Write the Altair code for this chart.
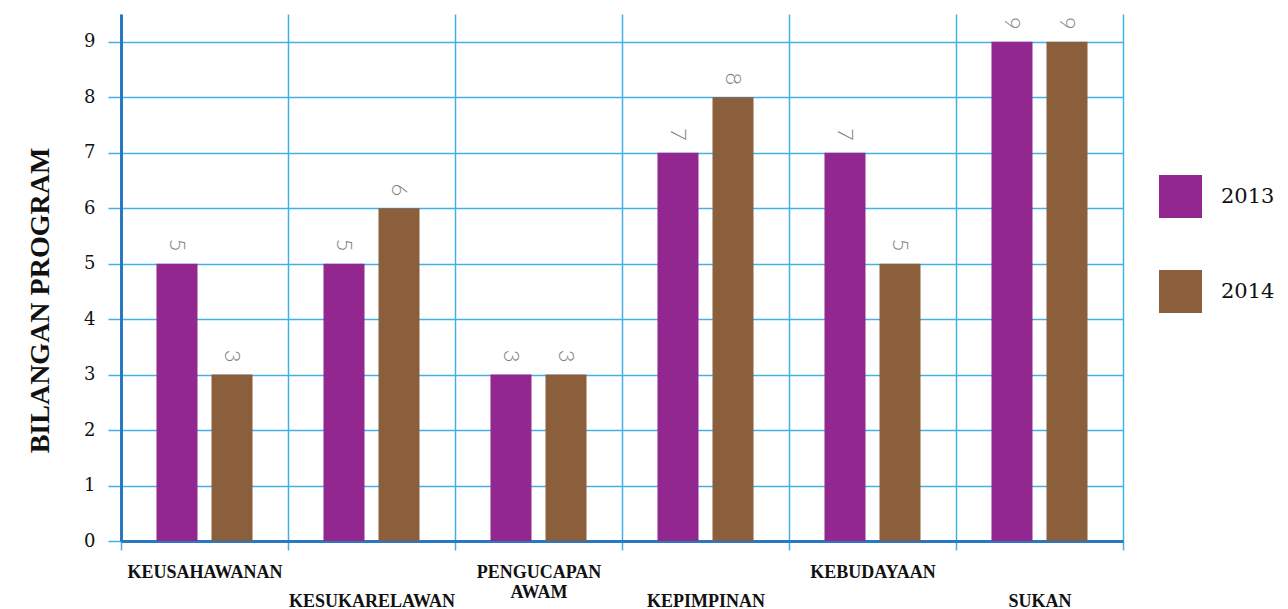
import altair as alt
import pandas as pd

categories = ["KEUSAHAWANAN", "KESUKARELAWAN", "PENGUCAPAN AWAM",
              "KEPIMPINAN", "KEBUDAYAAN", "SUKAN"]
years = ["2013", "2014"]
values_2013 = [5, 5, 3, 7, 7, 9]
values_2014 = [3, 6, 3, 8, 5, 9]
colors = ["#92278f", "#8b5e3c"]
y_ticks = [0, 1, 2, 3, 4, 5, 6, 7, 8, 9]
# label row for each category (0 = upper row, 1 = lower row)
label_rows = [0, 1, 0, 1, 0, 1]

rows = []
for c, a, b in zip(categories, values_2013, values_2014):
    rows.append({"cat": c, "year": years[0], "val": a})
    rows.append({"cat": c, "year": years[1], "val": b})
df = pd.DataFrame(rows)

lower = [c for c, r in zip(categories, label_rows) if r == 1]
lower_test = "indexof([" + ",".join("'" + c + "'" for c in lower) + "], datum.value) >= 0"

GRID = "#45b0e5"
DOMAIN = "#2a78c2"

x = alt.X("cat:N", sort=categories, title=None,
          scale=alt.Scale(paddingInner=0, paddingOuter=0, range=[0, 1002]),
          axis=alt.Axis(labelAngle=0, tickBand="extent", grid=True,
                        gridColor=GRID, gridWidth=1.5, gridOpacity=1,
                        tickColor=GRID, tickWidth=1.5, tickSize=9,
                        domainColor=DOMAIN, domainWidth=3,
                        labelFont="Liberation Serif", labelFontWeight="bold",
                        labelFontSize=18, labelColor="#111111",
                        labelLineHeight=20, labelBaseline="top",
                        labelPadding={"condition": {"test": lower_test, "value": 42},
                                      "value": 13},
                        labelOverlap=False, labelBound=False,
                        labelExpr="split(datum.label, ' ')"))

y = alt.Y("val:Q", title="BILANGAN PROGRAM",
          scale=alt.Scale(domain=[0, 9.5], nice=False),
          axis=alt.Axis(values=y_ticks, format="d", grid=True, gridColor=GRID,
                        gridWidth=1.5, gridOpacity=1, tickColor=GRID,
                        tickWidth=1.5, tickSize=13, domainColor=DOMAIN,
                        domainWidth=3, labelFont="DejaVu Serif",
                        labelFontSize=18, labelColor="#111111",
                        labelPadding=13,
                        titleFont="Liberation Serif", titleFontWeight="bold",
                        titleFontSize=28, titleColor="#111111",
                        titleAngle=-90, titleAlign="center",
                        titleBaseline="middle", titleX=-81, titleY=286))

xoff = alt.XOffset("year:N", sort=years,
                   scale=alt.Scale(paddingInner=0.2545, paddingOuter=0.645))

bars = alt.Chart(df).mark_bar().encode(
    x=x, y=y, xOffset=xoff,
    color=alt.Color("year:N", sort=years,
                    scale=alt.Scale(domain=years, range=colors),
                    legend=alt.Legend(title=None, orient="none",
                                      legendX=1038, legendY=161,
                                      symbolType="square", symbolSize=1849,
                                      symbolStrokeWidth=0, symbolOpacity=1,
                                      labelFont="DejaVu Serif",
                                      labelFontSize=21, labelColor="#111111",
                                      labelOffset=19, rowPadding=52,
                                      padding=0)),
)

labels = alt.Chart(df).mark_text(
    angle=90, align="right", baseline="middle", dx=-12,
    font="Lato", fontWeight=300, fontSize=22, color="#808080"
).encode(x=alt.X("cat:N", sort=categories), y="val:Q", xOffset=xoff,
         text="val:Q")

chart = alt.layer(bars, labels).properties(
    width=1011, height=527,
    autosize=alt.AutoSizeParams(type="none"),
    padding={"left": 113, "top": 6, "right": 148, "bottom": 68},
).configure_view(stroke=None)

chart.save("out.html", embed_options={"renderer": "svg", "actions": False})
